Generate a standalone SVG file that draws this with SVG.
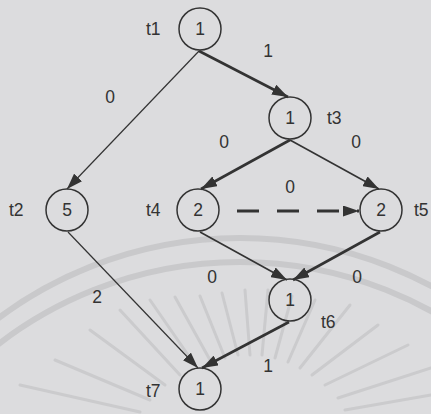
<svg xmlns="http://www.w3.org/2000/svg" width="431" height="414" viewBox="0 0 431 414">
<defs>
<style>
.bg{fill:#dcdcde}
.wm{fill:none;stroke:#c9c9cb;stroke-width:6}
.ray{stroke:#cbcbcd;stroke-width:3;stroke-linecap:round}
.node{fill:none;stroke:#333;stroke-width:1.5}
.edge{fill:none;stroke:#333}
.thin{stroke-width:1.2}
.mid{stroke-width:1.6}
.thick{stroke-width:2.6}
.dash{stroke-width:3;stroke-dasharray:22 18}
text{font-family:"Liberation Sans",Arial,sans-serif;font-size:17.5px;fill:#333}
.c{text-anchor:middle}
</style>
<marker id="ah" viewBox="0 0 16 11" refX="16" refY="5.5" markerWidth="16" markerHeight="11" markerUnits="userSpaceOnUse" orient="auto">
<path d="M0,0 L16,5.5 L0,11 Z" fill="#333"/>
</marker>
</defs>
<rect class="bg" x="0" y="0" width="431" height="414"/>
<g id="watermark">
<circle class="wm" cx="240" cy="642" r="404"/>
<circle class="wm" cx="240" cy="658" r="396"/>
<g class="ray">
<line x1="140" y1="412" x2="20" y2="385"/>
<line x1="150" y1="400" x2="55" y2="360"/>
<line x1="165" y1="385" x2="90" y2="330"/>
<line x1="180" y1="375" x2="120" y2="310"/>
<line x1="195" y1="365" x2="150" y2="300"/>
<line x1="210" y1="360" x2="175" y2="297"/>
<line x1="225" y1="358" x2="200" y2="296"/>
<line x1="238" y1="355" x2="222" y2="293"/>
<line x1="250" y1="355" x2="245" y2="290"/>
<line x1="262" y1="355" x2="268" y2="290"/>
<line x1="275" y1="358" x2="292" y2="296"/>
<line x1="288" y1="362" x2="315" y2="300"/>
<line x1="300" y1="368" x2="350" y2="305"/>
<line x1="312" y1="375" x2="378" y2="325"/>
<line x1="325" y1="385" x2="408" y2="345"/>
<line x1="338" y1="398" x2="431" y2="368"/>
<line x1="345" y1="410" x2="431" y2="395"/>
</g>
</g>
<g id="connectors">
<line class="edge thick" x1="199" y1="51" x2="288" y2="97" marker-end="url(#ah)"/>
<line class="edge thin" x1="199" y1="51" x2="67" y2="189" marker-end="url(#ah)"/>
<line class="edge thick" x1="290" y1="140" x2="201" y2="189" marker-end="url(#ah)"/>
<line class="edge mid" x1="290" y1="140" x2="379" y2="189" marker-end="url(#ah)"/>
<line class="edge dash" x1="237" y1="211" x2="359" y2="211" marker-end="url(#ah)"/>
<line class="edge mid" x1="200" y1="232" x2="287" y2="280" marker-end="url(#ah)"/>
<line class="edge thick" x1="380" y1="232" x2="293" y2="280" marker-end="url(#ah)"/>
<line class="edge thin" x1="68" y1="232" x2="198" y2="368" marker-end="url(#ah)"/>
<line class="edge thick" x1="289" y1="322" x2="202" y2="368" marker-end="url(#ah)"/>
</g>
<g id="edge-labels">
<text class="c" x="268" y="57">1</text>
<text class="c" x="110" y="103">0</text>
<text class="c" x="224" y="148">0</text>
<text class="c" x="356" y="148">0</text>
<text class="c" x="290" y="193">0</text>
<text class="c" x="212" y="283">0</text>
<text class="c" x="357" y="283">0</text>
<text class="c" x="97" y="303">2</text>
<text class="c" x="268" y="372">1</text>
</g>
<g id="t1"><circle class="node" cx="200" cy="29" r="21"/><text class="c" x="200" y="35">1</text><text x="146" y="35">t1</text></g>
<g id="t3"><circle class="node" cx="290" cy="118" r="21"/><text class="c" x="290" y="124">1</text><text x="327" y="124">t3</text></g>
<g id="t2"><circle class="node" cx="67" cy="210" r="21"/><text class="c" x="67" y="216">5</text><text x="9" y="216">t2</text></g>
<g id="t4"><circle class="node" cx="198" cy="210" r="21"/><text class="c" x="198" y="216">2</text><text x="146" y="216">t4</text></g>
<g id="t5"><circle class="node" cx="381" cy="210" r="21"/><text class="c" x="381" y="216">2</text><text x="414" y="216">t5</text></g>
<g id="t6"><circle class="node" cx="290" cy="300" r="21"/><text class="c" x="290" y="306">1</text><text x="321" y="328">t6</text></g>
<g id="t7"><circle class="node" cx="200" cy="389" r="21"/><text class="c" x="200" y="395">1</text><text x="146" y="397">t7</text></g>
</svg>
